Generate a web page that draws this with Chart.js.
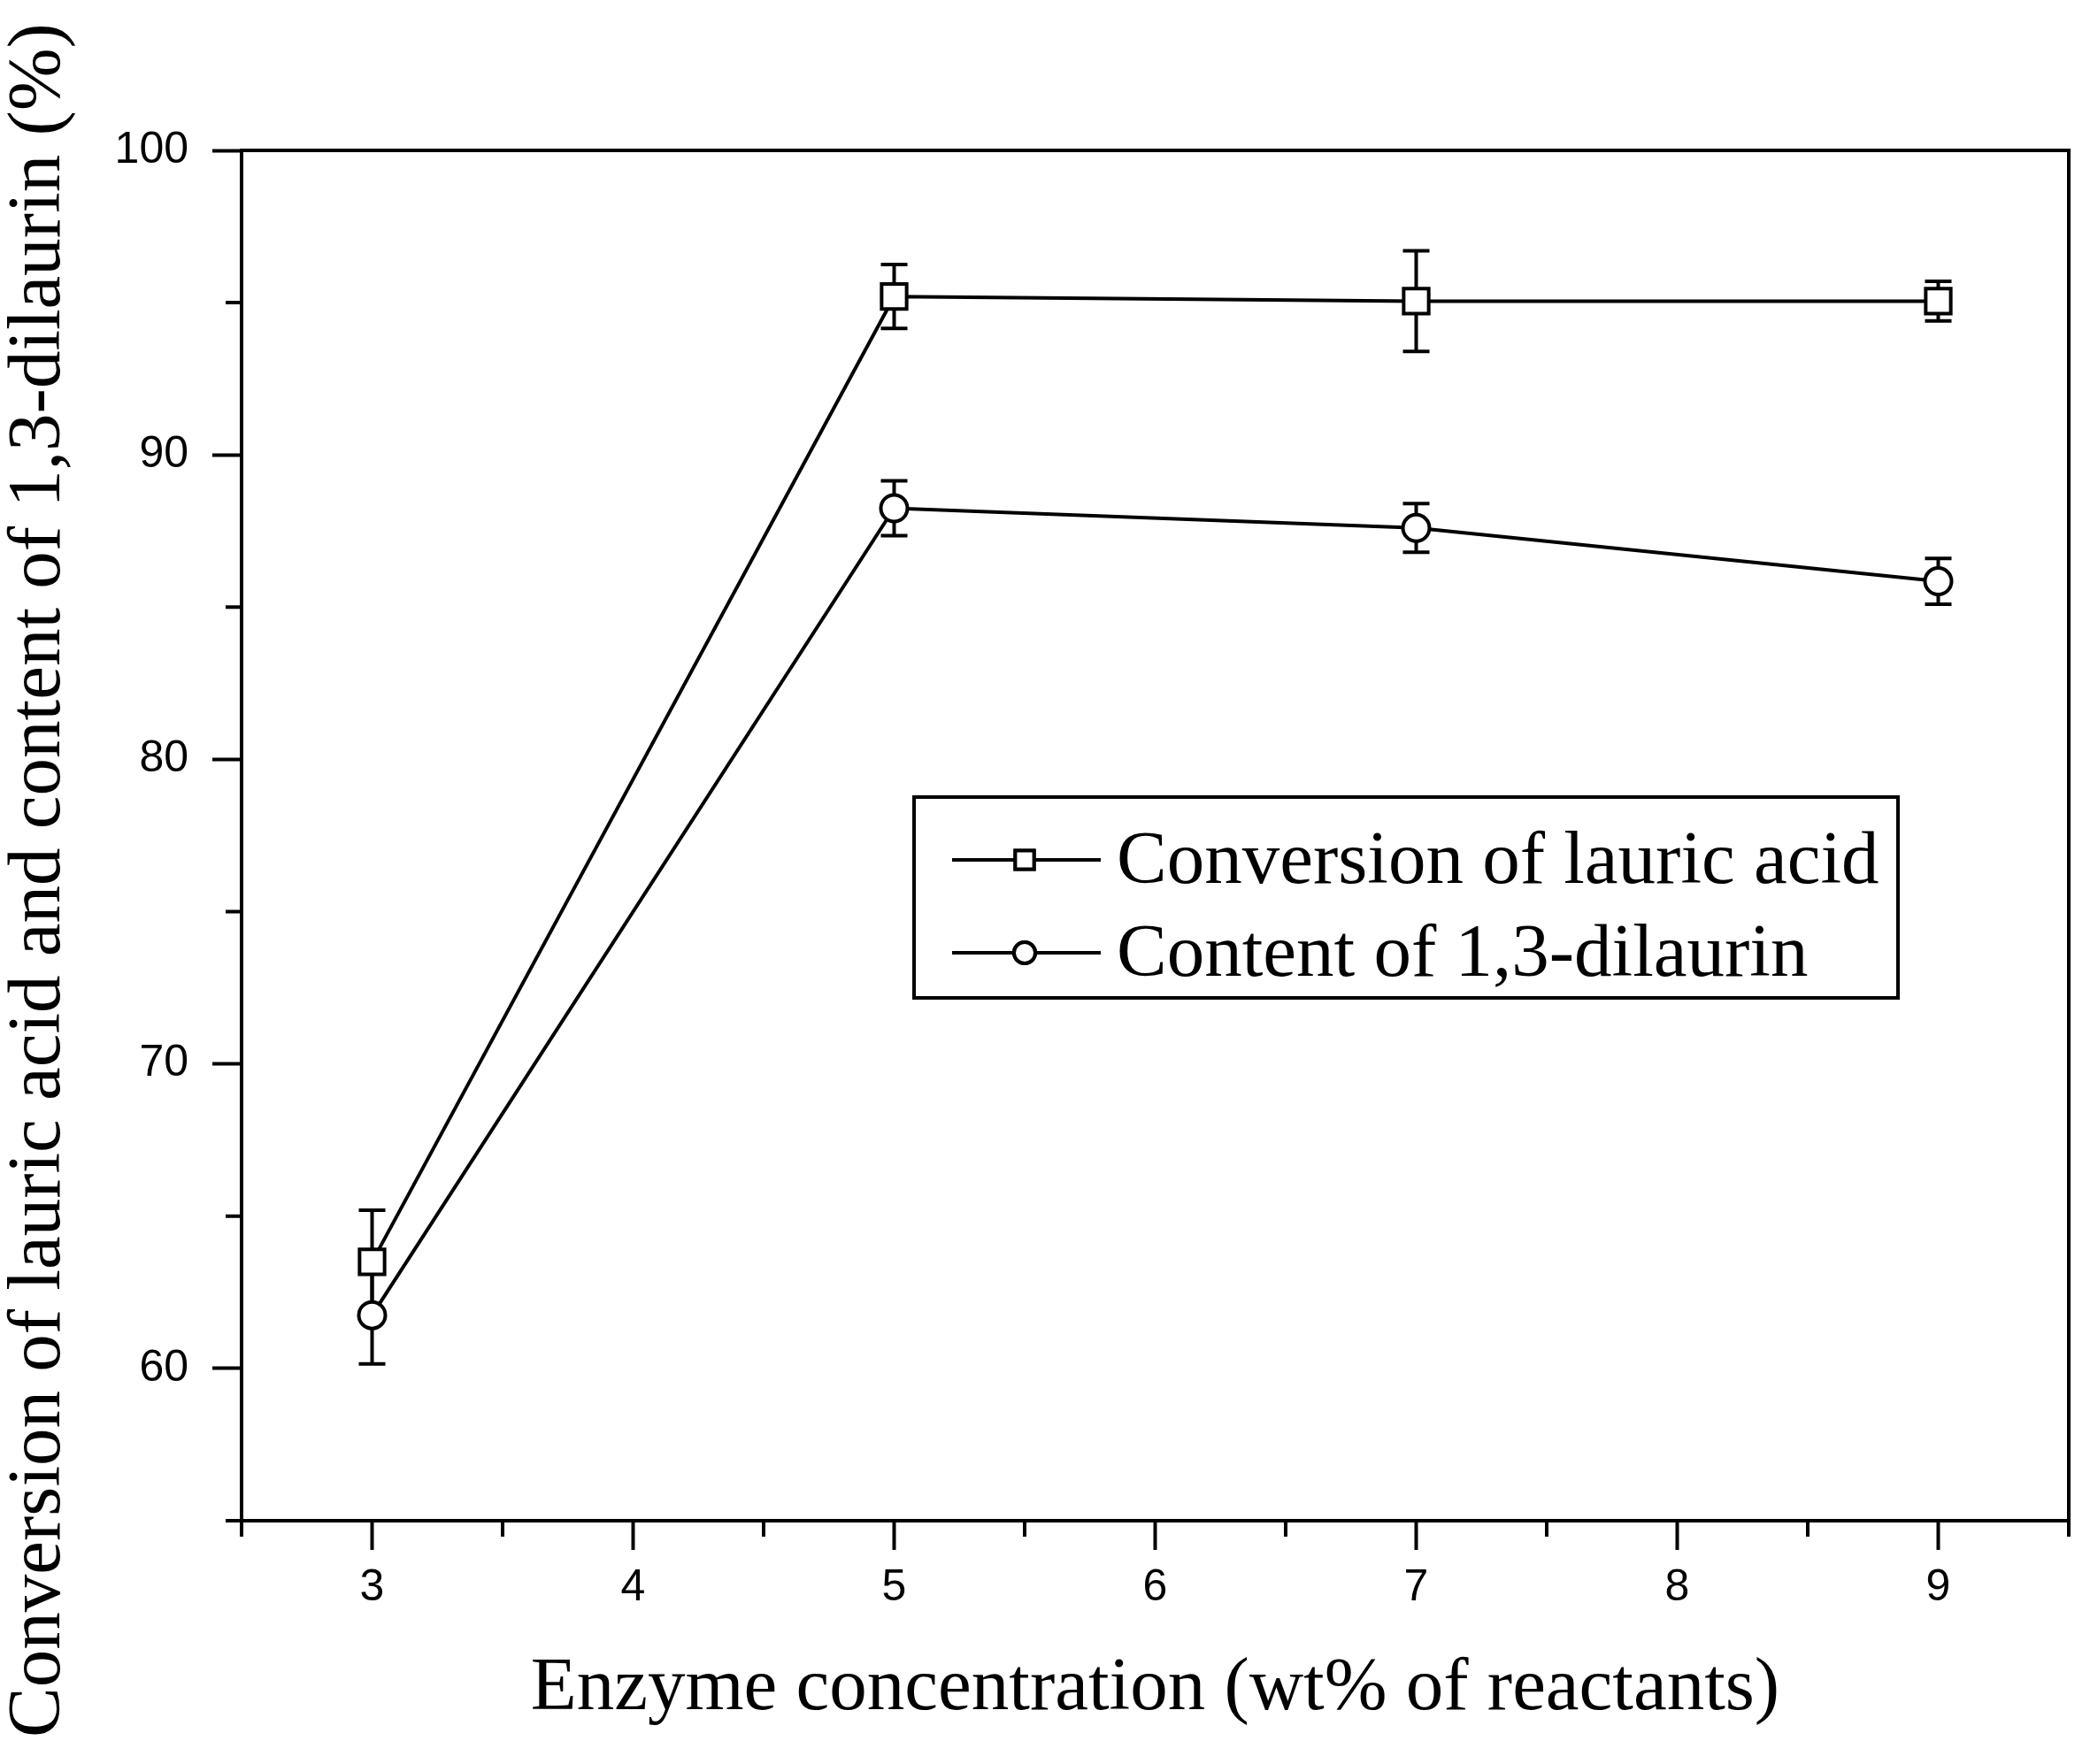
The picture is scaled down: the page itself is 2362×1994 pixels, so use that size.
<!DOCTYPE html>
<html>
<head>
<meta charset="utf-8">
<script src="https://cdn.jsdelivr.net/npm/chart.js@4.4.1/dist/chart.umd.min.js"></script>
<style>
html, body { margin: 0; padding: 0; background: #fff; }
#chart { display: block; }
</style>
</head>
<body>
<canvas id="chart" width="2362" height="1994"></canvas>
<script>
// values
const enzymeConc = [3, 5, 7, 9];
const conversion = [63.5, 95.2, 95.05, 95.05];
const conversionErr = [1.7, 1.05, 1.65, 0.65];
const dilaurin = [61.75, 88.25, 87.6, 85.85];
const dilaurinErr = [1.6, 0.9, 0.8, 0.75];
const seriesNames = ['Conversion of lauric acid', 'Content of 1,3-dilaurin'];
const yTitle = 'Conversion of lauric acid and content of 1,3-dilaurin (%)';
const xTitle = 'Enzyme concentration (wt% of reactants)';

const xTicks = [3, 4, 5, 6, 7, 8, 9];
const xMinorTicks = [2.5, 3.5, 4.5, 5.5, 6.5, 7.5, 8.5, 9.5];
const yTicks = [60, 70, 80, 90, 100];
const yMinorTicks = [55, 65, 75, 85, 95];

const serif = 'Liberation Serif';
const sans = 'Liberation Sans';

const toPoints = (ys) => enzymeConc.map((x, i) => ({ x: x, y: ys[i] }));

// error bars under the markers, frame, minor ticks, y title and the boxed legend
const extras = {
    id: 'extras',
    beforeDatasetsDraw(chart) {
        const ctx = chart.ctx;
        const x = chart.scales.x, y = chart.scales.y;
        ctx.save();
        ctx.strokeStyle = '#000';
        ctx.lineWidth = 4;
        chart.data.datasets.forEach(ds => {
            ds.data.forEach((p, i) => {
                const px = x.getPixelForValue(p.x);
                const top = y.getPixelForValue(p.y + ds.errors[i]);
                const bot = y.getPixelForValue(p.y - ds.errors[i]);
                ctx.beginPath();
                ctx.moveTo(px, top); ctx.lineTo(px, bot);
                ctx.moveTo(px - 15, top); ctx.lineTo(px + 15, top);
                ctx.moveTo(px - 15, bot); ctx.lineTo(px + 15, bot);
                ctx.stroke();
            });
        });
        ctx.restore();
    },
    afterDraw(chart) {
        const ctx = chart.ctx;
        const a = chart.chartArea;
        const x = chart.scales.x, y = chart.scales.y;
        ctx.save();
        ctx.strokeStyle = '#000';
        ctx.lineWidth = 4;
        ctx.strokeRect(a.left, a.top, a.right - a.left, a.bottom - a.top);

        ctx.beginPath();
        xMinorTicks.forEach(v => {
            const px = x.getPixelForValue(v);
            ctx.moveTo(px, a.bottom); ctx.lineTo(px, a.bottom + 18);
        });
        yMinorTicks.forEach(v => {
            const py = y.getPixelForValue(v);
            ctx.moveTo(a.left, py); ctx.lineTo(a.left - 18, py);
        });
        ctx.stroke();

        ctx.fillStyle = '#000';
        ctx.font = '85px "' + serif + '"';

        // y title, runs almost the full height of the figure
        ctx.save();
        ctx.translate(45, 995);
        ctx.rotate(-Math.PI / 2);
        ctx.textAlign = 'center';
        ctx.textBaseline = 'middle';
        ctx.fillText(yTitle, 0, 0);
        ctx.restore();

        // legend box
        const bx = 1033, by = 901, bw = 1112, bh = 227;
        ctx.strokeRect(bx, by, bw, bh);
        ctx.textBaseline = 'middle';
        const rows = [by + 71, by + 176];
        chart.data.datasets.forEach((ds, i) => {
            const ly = rows[i];
            ctx.beginPath();
            ctx.moveTo(bx + 43, ly); ctx.lineTo(bx + 211, ly);
            ctx.stroke();
            Chart.helpers.drawPoint(ctx, {
                pointStyle: ds.pointStyle,
                radius: ds.legendRadius,
                borderWidth: 4
            }, bx + 125, ly);
            ctx.fillStyle = '#fff';
            ctx.fill();
            ctx.stroke();
            ctx.fillStyle = '#000';
            ctx.fillText(ds.label, bx + 229, ly + 4);
        });
        ctx.restore();
    }
};

const chartCtx = document.getElementById('chart').getContext('2d');
const chart = new Chart(chartCtx, {
    type: 'line',
    data: {
        datasets: [
            {
                label: seriesNames[0],
                data: toPoints(conversion),
                errors: conversionErr,
                borderColor: '#000',
                borderWidth: 4,
                pointStyle: 'rect',
                pointRadius: 20,
                legendRadius: 15,
                pointBorderWidth: 4,
                pointBorderColor: '#000',
                pointBackgroundColor: '#fff',
                tension: 0
            },
            {
                label: seriesNames[1],
                data: toPoints(dilaurin),
                errors: dilaurinErr,
                borderColor: '#000',
                borderWidth: 4,
                pointStyle: 'circle',
                pointRadius: 15,
                legendRadius: 12,
                pointBorderWidth: 4,
                pointBorderColor: '#000',
                pointBackgroundColor: '#fff',
                tension: 0
            }
        ]
    },
    options: {
        responsive: false,
        animation: false,
        devicePixelRatio: 1,
        layout: { padding: { top: 170, right: 23, left: 0, bottom: 0 } },
        plugins: { legend: { display: false }, tooltip: { enabled: false } },
        scales: {
            x: {
                type: 'linear',
                min: 2.5,
                max: 9.5,
                afterBuildTicks: s => { s.ticks = xTicks.map(v => ({ value: v })); },
                afterFit: s => { s.height = 275; },
                ticks: {
                    color: '#000',
                    font: { family: sans, size: 50 },
                    padding: 13,
                    maxRotation: 0,
                    autoSkip: false
                },
                grid: { drawOnChartArea: false, tickLength: 33, tickWidth: 4, tickColor: '#000' },
                border: { color: '#000', width: 4 },
                title: {
                    display: true,
                    text: xTitle,
                    color: '#000',
                    font: { family: serif, size: 85 },
                    padding: { top: 0, bottom: 33 }
                }
            },
            y: {
                min: 55,
                max: 100,
                afterBuildTicks: s => { s.ticks = yTicks.map(v => ({ value: v })); },
                afterFit: s => { s.width = 273; },
                ticks: {
                    color: '#000',
                    font: { family: sans, size: 50 },
                    padding: 27
                },
                grid: { drawOnChartArea: false, tickLength: 33, tickWidth: 4, tickColor: '#000' },
                border: { color: '#000', width: 4 },
                title: { display: false }
            }
        }
    },
    plugins: [extras]
});
</script>
</body>
</html>
